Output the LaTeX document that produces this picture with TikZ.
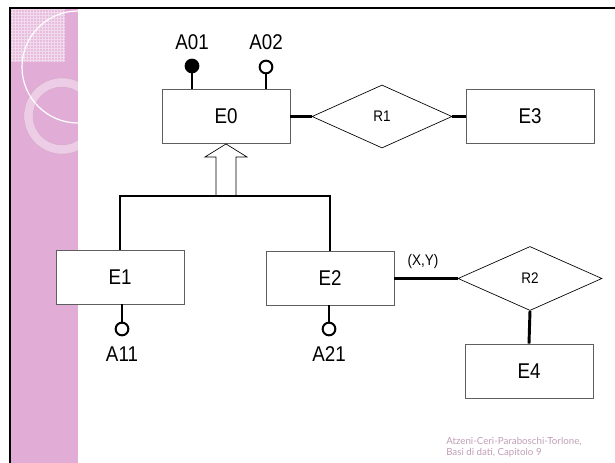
\documentclass[tikz,border=0pt]{standalone}
\usepackage{fontspec}
\setmainfont{Liberation Sans}[FakeStretch=0.88]
\newfontfamily\footfont{Lato}
\usetikzlibrary{shapes.geometric}

\definecolor{strip}{RGB}{225,172,214}
\definecolor{footc}{RGB}{192,158,182}
\definecolor{edge}{RGB}{95,95,95}

\begin{document}
\begin{tikzpicture}[x=0.75pt,y=-0.75pt,
  entity/.style={draw=edge,line width=0.7pt,fill=white,minimum width=96pt,
    minimum height=40.5pt,inner sep=0pt,font=\fontsize{16}{19}\selectfont},
  rel/.style={draw,line width=0.5pt,fill=white,shape=diamond,aspect=2.2,
    inner sep=0pt,font=\fontsize{11.5}{13}\selectfont},
  link/.style={line width=2.2pt},
  stem/.style={line width=2.2pt},
  attr/.style={circle,draw,line width=1.5pt,fill=white,minimum size=9.5pt,inner sep=0pt},
  attrkey/.style={attr,fill=black},
  attrlbl/.style={font=\fontsize{16}{19}\selectfont,inner sep=0pt},
  hollow/.style={draw,line width=0.5pt,fill=white},
  foot/.style={font=\footfont\fontsize{7.3}{9}\selectfont,text=footc,inner sep=0pt,anchor=base west}
]
\useasboundingbox (0,0) rectangle (615,463);

% decorated side strip
\begin{scope}
  \clip (11,9) rectangle (78,463);
  \fill[strip] (11,9) rectangle (78,463);
  \fill[white,opacity=0.2] (11,9) rectangle (65,62);
  \begin{scope}
    \clip (11,9) rectangle (65,62);
    \draw[white,opacity=0.45,line width=0.35pt,step=2.25pt] (11,9) grid (65,62);
  \end{scope}
  \draw[white,line width=0.9pt] (78,67) circle[radius=56];
  \fill[white,opacity=0.4,even odd rule] (62,116) circle[radius=38] (62,116) circle[radius=29];
  \draw[strip!75!gray,opacity=0.5,line width=0.4pt] (62,116) circle[radius=38] (62,116) circle[radius=29];
\end{scope}

% frame
\draw[line width=2pt] (10,463) -- (10,8) -- (615,8);

% entities
\node[entity] (E0) at (226,116.5) {E0};
\node[entity] (E3) at (530,116.5) {E3};
\node[entity] (E1) at (120,277) {E1};
\node[entity] (E2) at (330,278) {E2};
\node[entity] (E4) at (529,371) {E4};

% relationships
\node[rel,minimum width=105pt,minimum height=47.25pt] (R1) at (382,116.5) {R1};
\node[rel,minimum width=108pt,minimum height=48pt] (R2) at (530,278.5) {R2};

% attributes
\node[attrkey] (a01) at (192,66) {};
\node[attr] (a02) at (266,67) {};
\node[attr] (a11) at (122,329) {};
\node[attr] (a21) at (329,329) {};
\node[attrlbl] (l01) at (192,42) {A01};
\node[attrlbl] (l02) at (266,42) {A02};
\node[attrlbl] (l11) at (122,354) {A11};
\node[attrlbl] (l21) at (329,354) {A21};
\draw[stem] (E0.north -| a01) -- (a01);
\draw[stem] (E0.north -| a02) -- (a02);
\draw[stem] (E1.south -| a11) -- (a11);
\draw[stem] (E2.south -| a21) -- (a21);

% relationship links
\draw[link] (E0.east) -- (R1.west);
\draw[link] (R1.east) -- (E3.west);
\draw[link] (E2.east |- R2.west) -- node[pos=0.45,yshift=12.75pt,font=\fontsize{11.5}{13}\selectfont] (card) {(X,Y)} (R2.west);
\draw[link] (R2.south) -- (E4.north);

% generalization
\coordinate (bar) at (226,196);
\draw[hollow] (E0.south) -- ++(21,13) -- ++(-11,0) -- ++(0,39) -- ++(-20,0)
  -- ++(0,-39) -- ++(-11,0) -- cycle;
\draw[link] (E1.north) |- (bar) -| (E2.north);

% footer
\node[foot] (f1) at (446,445) {Atzeni-Ceri-Paraboschi-Torlone,};
\node[foot] (f2) at (446,456) {Basi di dati, Capitolo 9};
\end{tikzpicture}
\end{document}
